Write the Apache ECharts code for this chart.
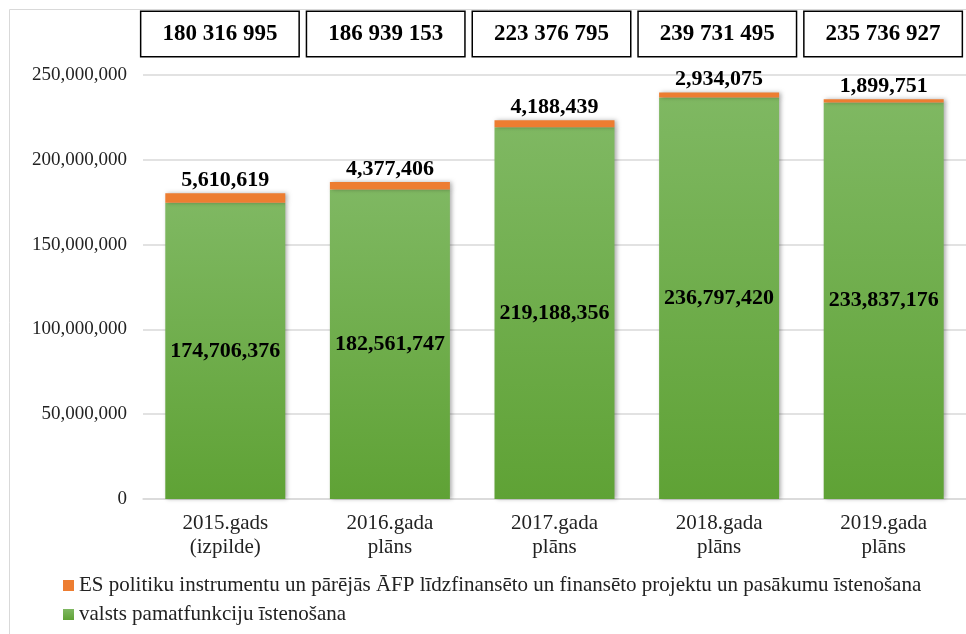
<!DOCTYPE html>
<html>
<head>
<meta charset="utf-8">
<script src="https://cdn.jsdelivr.net/npm/echarts@6/dist/echarts.min.js"></script>
<style>
  html, body { margin: 0; padding: 0; background: #fff; }
  #chart { width: 966px; height: 634px; }
</style>
</head>
<body>
<div id="chart"></div>
<script>
const categories = ['2015.gads\n(izpilde)', '2016.gada\nplāns', '2017.gada\nplāns', '2018.gada\nplāns', '2019.gada\nplāns'];
const baseValues = [174706376, 182561747, 219188356, 236797420, 233837176];
const esValues = [5610619, 4377406, 4188439, 2934075, 1899751];
const yTicks = [0, 50000000, 100000000, 150000000, 200000000, 250000000];

const baseName = 'valsts pamatfunkciju īstenošana';
const esName = 'ES politiku instrumentu un pārējās ĀFP līdzfinansēto un finansēto projektu un pasākumu īstenošana';

const font = "'Liberation Serif', 'Times New Roman', serif";
const comma = v => Number(v).toLocaleString('en-US');
const spaced = v => comma(v).replace(/,/g, ' ');
const totals = baseValues.map((v, i) => spaced(v + esValues[i]));

const chart = echarts.init(document.getElementById('chart'));

chart.setOption({
    animation: false,
    textStyle: { fontFamily: font },
    graphic: [{
        type: 'rect',
        silent: true,
        shape: { x: 9.5, y: 9.5, width: 1000, height: 700 },
        style: { fill: 'none', stroke: '#d9d9d9', lineWidth: 1 }
    }],
    grid: [
        { left: 143, top: 75, width: 833, height: 424 },
        { left: 137, top: 75, width: 833, height: 424 }
    ],
    legend: {
        orient: 'vertical',
        left: 58,
        top: 570,
        itemWidth: 11,
        itemHeight: 11,
        itemGap: 8,
        icon: 'rect',
        data: [esName, baseName],
        textStyle: { fontFamily: font, fontSize: 21, color: '#222' }
    },
    xAxis: [
        {
            type: 'category',
            gridIndex: 0,
            data: categories,
            axisTick: { show: false },
            axisLine: { lineStyle: { color: '#d9d9d9', width: 1.5 } },
            axisLabel: { fontFamily: font, fontSize: 21, lineHeight: 24, color: '#222', margin: 12 }
        },
        {
            type: 'category',
            gridIndex: 1,
            position: 'top',
            data: totals,
            axisTick: { show: false },
            axisLine: { show: false },
            axisLabel: {
                fontFamily: font,
                fontSize: 23,
                fontWeight: 'bold',
                color: '#000',
                margin: 19,
                width: 157,
                align: 'center',
                padding: [9, 0, 9, 0],
                lineHeight: 26,
                borderColor: '#000',
                borderWidth: 1.5,
                backgroundColor: '#fff'
            }
        }
    ],
    yAxis: [
        {
            type: 'value',
            gridIndex: 0,
            min: yTicks[0],
            max: yTicks[yTicks.length - 1],
            interval: yTicks[1] - yTicks[0],
            axisLine: { show: false },
            axisTick: { show: false },
            splitLine: { lineStyle: { color: '#d9d9d9', width: 1.5 } },
            axisLabel: { fontFamily: font, fontSize: 19, color: '#222', margin: 16, formatter: comma }
        },
        { type: 'value', gridIndex: 1, show: false, min: 0, max: 250000000 }
    ],
    series: [
        {
            name: baseName,
            type: 'bar',
            stack: 'total',
            barWidth: 120,
            data: baseValues,
            itemStyle: {
                color: new echarts.graphic.LinearGradient(0, 0, 0, 1, [
                    { offset: 0, color: '#7fb862' },
                    { offset: 1, color: '#5fa235' }
                ]),
                shadowColor: 'rgba(0,0,0,0.3)',
                shadowBlur: 4,
                shadowOffsetX: 2
            },
            label: {
                show: true,
                position: 'inside',
                fontFamily: font,
                fontSize: 22,
                fontWeight: 'bold',
                color: '#000',
                formatter: p => comma(p.value)
            }
        },
        {
            name: esName,
            type: 'bar',
            stack: 'total',
            barWidth: 120,
            data: esValues,
            itemStyle: {
                color: '#ed7d31',
                shadowColor: 'rgba(0,0,0,0.3)',
                shadowBlur: 4,
                shadowOffsetX: 2
            },
            label: {
                show: true,
                position: 'top',
                distance: 2,
                fontFamily: font,
                fontSize: 22,
                fontWeight: 'bold',
                color: '#000',
                formatter: p => comma(p.value)
            }
        }
    ]
});
</script>
</body>
</html>
